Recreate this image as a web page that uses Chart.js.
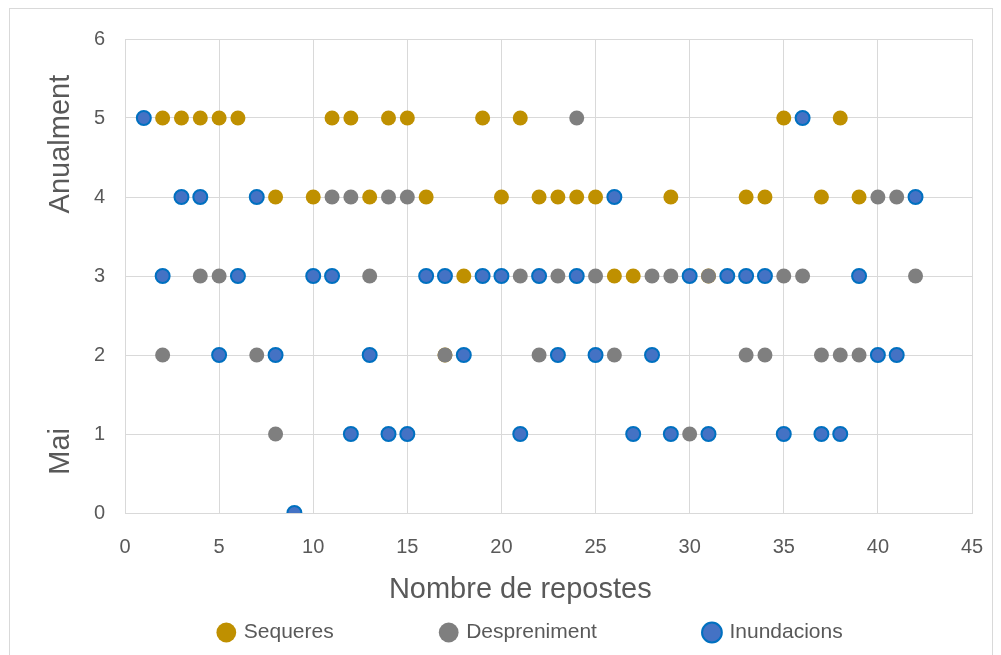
<!DOCTYPE html>
<html>
<head>
<meta charset="utf-8">
<title>Nombre de repostes</title>
<script src="https://cdn.jsdelivr.net/npm/chart.js@4.4.0/dist/chart.umd.min.js"></script>
<style>
  html, body { margin: 0; padding: 0; background: #fff; overflow: hidden; }
  #wrap { position: relative; width: 1001px; height: 655px; }
  #frame { position: absolute; left: 9px; top: 8px; width: 984px; height: 660px; border: 1px solid #d9d9d9; box-sizing: border-box; }
  canvas { position: absolute; left: 0; top: 0; }
</style>
</head>
<body>
<div id="wrap">
  <div id="frame"></div>
  <canvas id="chart1" width="1001" height="655"></canvas>
</div>
<script>
// Sequeres
var seqX = [2, 3, 4, 5, 6, 8, 10, 11, 12, 13, 14, 15, 16, 17, 18, 19, 20, 21, 22, 23, 24, 25, 26, 27, 29, 31, 33, 34, 35, 37, 38, 39];
var seqY = [5, 5, 5, 5, 5, 4, 4, 5, 5, 4, 5, 5, 4, 2, 3, 5, 4, 5, 4, 4, 4, 4, 3, 3, 4, 3, 4, 4, 5, 4, 5, 4];

// Despreniment
var desX = [2, 4, 5, 7, 8, 11, 12, 13, 14, 15, 17, 21, 22, 23, 24, 25, 26, 28, 29, 30, 31, 33, 34, 35, 36, 37, 38, 39, 40, 41, 42];
var desY = [2, 3, 3, 2, 1, 4, 4, 3, 4, 4, 2, 3, 2, 3, 5, 3, 2, 3, 3, 1, 3, 2, 2, 3, 3, 2, 2, 2, 4, 4, 3];

// Inundacions
var inuX = [1, 2, 3, 4, 5, 6, 7, 8, 9, 10, 11, 12, 13, 14, 15, 16, 17, 18, 19, 20, 21, 22, 23, 24, 25, 26, 27, 28, 29, 30, 31, 32, 33, 34, 35, 36, 37, 38, 39, 40, 41, 42];
var inuY = [5, 3, 4, 4, 2, 3, 4, 2, 0, 3, 3, 1, 2, 1, 1, 3, 3, 2, 3, 3, 1, 3, 2, 3, 2, 4, 1, 2, 1, 3, 1, 3, 3, 3, 1, 5, 1, 1, 3, 2, 2, 4];

var seriesNames = ["Sequeres", "Despreniment", "Inundacions"];
var xTitle = "Nombre de repostes";
var yTitleTop = "Anualment";
var yTitleBottom = "Mai";

function toPoints(xs, ys) {
    var pts = [];
    for (var i = 0; i < xs.length; i++) {
        pts.push({x: xs[i], y: ys[i]});
    }
    return pts;
}

var font = "'Liberation Sans', Arial, sans-serif";
var textColor = "#595959";
var gridColor = "#d9d9d9";

function drawText(ctx, txt, x, y, rot) {
    ctx.save();
    ctx.fillStyle = textColor;
    ctx.font = "29px " + font;
    ctx.textAlign = "center";
    ctx.textBaseline = "middle";
    ctx.translate(x, y);
    if (rot) ctx.rotate(-Math.PI / 2);
    ctx.fillText(txt, 0, 0);
    ctx.restore();
}

// axis titles placed like the text boxes of the original
var titles = {
    id: "titles",
    afterLayout: function(chart) {
        // legend in the original sits right of centre and close under the axis title
        chart.legend.left += 40;
        chart.legend.right += 40;
        chart.legend.top -= 99;
    },
    afterDraw: function(chart) {
        var y = chart.scales.y;
        var x = chart.scales.x;
        drawText(chart.ctx, yTitleTop, 61, y.getPixelForValue(4.67), true);
        drawText(chart.ctx, yTitleBottom, 61, y.getPixelForValue(0.78), true);
        drawText(chart.ctx, xTitle, x.getPixelForValue(21.0), y.bottom + 77, false);
    }
};

new Chart("chart1", {
    type: "scatter",
    data: {
        datasets: [{
            label: seriesNames[0],
            data: toPoints(seqX, seqY),
            backgroundColor: "#bf9000",
            borderColor: "#bf9000",
            borderWidth: 0,
            pointRadius: 7.5,
            order: 3
        }, {
            label: seriesNames[1],
            data: toPoints(desX, desY),
            backgroundColor: "#7f7f7f",
            borderColor: "#7f7f7f",
            borderWidth: 0,
            pointRadius: 7.5,
            order: 2
        }, {
            label: seriesNames[2],
            data: toPoints(inuX, inuY),
            backgroundColor: "#4472c4",
            borderColor: "#0070c0",
            borderWidth: 2,
            pointRadius: 7,
            order: 1
        }]
    },
    options: {
        responsive: false,
        animation: false,
        layout: {padding: {left: 10, right: 29, top: 39, bottom: 0}},
        plugins: {
            tooltip: {enabled: false},
            legend: {
                position: "bottom",
                maxHeight: 42,
                labels: {
                    usePointStyle: true,
                    pointStyle: "circle",
                    boxWidth: 14,
                    boxHeight: 14,
                    padding: 108,
                    color: textColor,
                    font: {family: font, size: 21},
                    sort: function(a, b) { return a.datasetIndex - b.datasetIndex; }
                }
            }
        },
        scales: {
            x: {
                type: "linear",
                min: 0,
                max: 45,
                ticks: {stepSize: 5, padding: 22, color: textColor, font: {family: font, size: 20}},
                grid: {color: gridColor, drawTicks: false},
                border: {color: gridColor},
                afterFit: function(s) {
                    s.height = 100;
                    s.paddingRight = 0;
                }
            },
            y: {
                min: 0,
                max: 6,
                ticks: {stepSize: 1, padding: 20, color: textColor, font: {family: font, size: 20}},
                grid: {color: gridColor, drawTicks: false},
                border: {color: gridColor},
                afterFit: function(s) { s.width = 115; }
            }
        }
    },
    plugins: [titles]
});
</script>
</body>
</html>
